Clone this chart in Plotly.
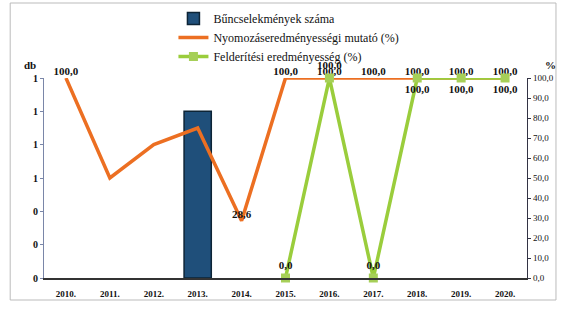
import plotly.graph_objects as go

years = ["2010.", "2011.", "2012.", "2013.", "2014.", "2015.", "2016.", "2017.", "2018.", "2019.", "2020."]
crimes = [None, None, None, 1, None, None, None, None, None, None, None]
investigation = [100.0, 50.0, 66.7, 75.0, 28.6, 100.0, 100.0, 100.0, 100.0, 100.0, 100.0]
detection = [None, None, None, None, None, 0.0, 100.0, 0.0, 100.0, 100.0, 100.0]

inv_labels = ["100,0", "", "", "", "28,6", "100,0", "100,0", "100,0", "100,0", "100,0", "100,0"]
det_labels = ["", "", "", "", "", "0,0", "100,0", "0,0", "100,0", "100,0", "100,0"]
det_pos = ["top center"] * 8 + ["bottom center"] * 3

serif = "Liberation Serif, Times New Roman, serif"

fig = go.Figure()
fig.add_trace(go.Bar(
    x=years, y=crimes, name="Bűncselekmények száma",
    marker=dict(color="#1f4f7a", line=dict(color="#0d2436", width=1.5)),
    width=0.62, yaxis="y",
))
fig.add_trace(go.Scatter(
    x=years, y=investigation, name="Nyomozáseredményességi mutató (%)",
    mode="lines+text", line=dict(color="#ec6f22", width=3.5),
    text=inv_labels, textposition="top center",
    textfont=dict(family=serif, size=11, color="#111111", weight="bold"),
    yaxis="y2", cliponaxis=False,
))
fig.add_trace(go.Scatter(
    x=years, y=detection, name="Felderítési eredményesség (%)",
    mode="lines+markers+text", line=dict(color="#9acd3c", width=3.5),
    marker=dict(symbol="square", size=9, color="#a6cf58"),
    text=det_labels, textposition=det_pos,
    textfont=dict(family=serif, size=11, color="#111111", weight="bold"),
    yaxis="y2", cliponaxis=False, connectgaps=False,
))

fig.update_layout(
    width=568, height=316,
    margin=dict(l=44, r=41, t=78, b=38, autoexpand=False),
    paper_bgcolor="white", plot_bgcolor="white",
    separators=", ",
    font=dict(family=serif, size=10, color="#111111"),
    showlegend=True,
    legend=dict(
        x=0.268, y=1.37, xanchor="left", yanchor="top",
        font=dict(family=serif, size=12, color="#111111"),
        bgcolor="rgba(0,0,0,0)", tracegroupgap=0, itemwidth=30,
    ),
    xaxis=dict(
        showgrid=False, showline=True, linecolor="#333333", linewidth=1.5,
        tickfont=dict(family=serif, size=9, color="#111111", weight="bold"),
        ticks="", range=[-0.5, 10.5], ticklabelstandoff=6,
    ),
    yaxis=dict(
        range=[0, 1.2], dtick=0.2, tickformat=".0f", showgrid=False,
        showline=True, linecolor="#7a86a8", linewidth=1.2, ticks="outside", ticklen=3,
        tickcolor="#7a86a8", zeroline=False,
        tickfont=dict(family=serif, size=10, color="#111111", weight="bold"),
    ),
    yaxis2=dict(
        range=[0, 100], dtick=10, tickformat=".1f", overlaying="y", side="right",
        showgrid=False, showline=True, linecolor="#333344", linewidth=1.2,
        ticks="outside", ticklen=3, tickcolor="#333344", zeroline=False,
        tickfont=dict(family=serif, size=9, color="#111111"),
    ),
    annotations=[
        dict(text="db", x=-0.045, y=1.105, xref="paper", yref="paper", showarrow=False,
             font=dict(family=serif, size=11, color="#111111", weight="bold")),
        dict(text="%", x=1.065, y=1.105, xref="paper", yref="paper", showarrow=False,
             font=dict(family=serif, size=11, color="#111111", weight="bold")),
    ],
    shapes=[
        dict(type="rect", xref="paper", yref="paper", x0=-0.07, x1=1.06, y0=-0.11, y1=1.375,
             line=dict(color="#bbbbbb", width=1)),
    ],
)

fig.write_html("out.html", config={"displayModeBar": False},
               post_script="document.body.style.margin='0';document.body.style.overflow='hidden';")
